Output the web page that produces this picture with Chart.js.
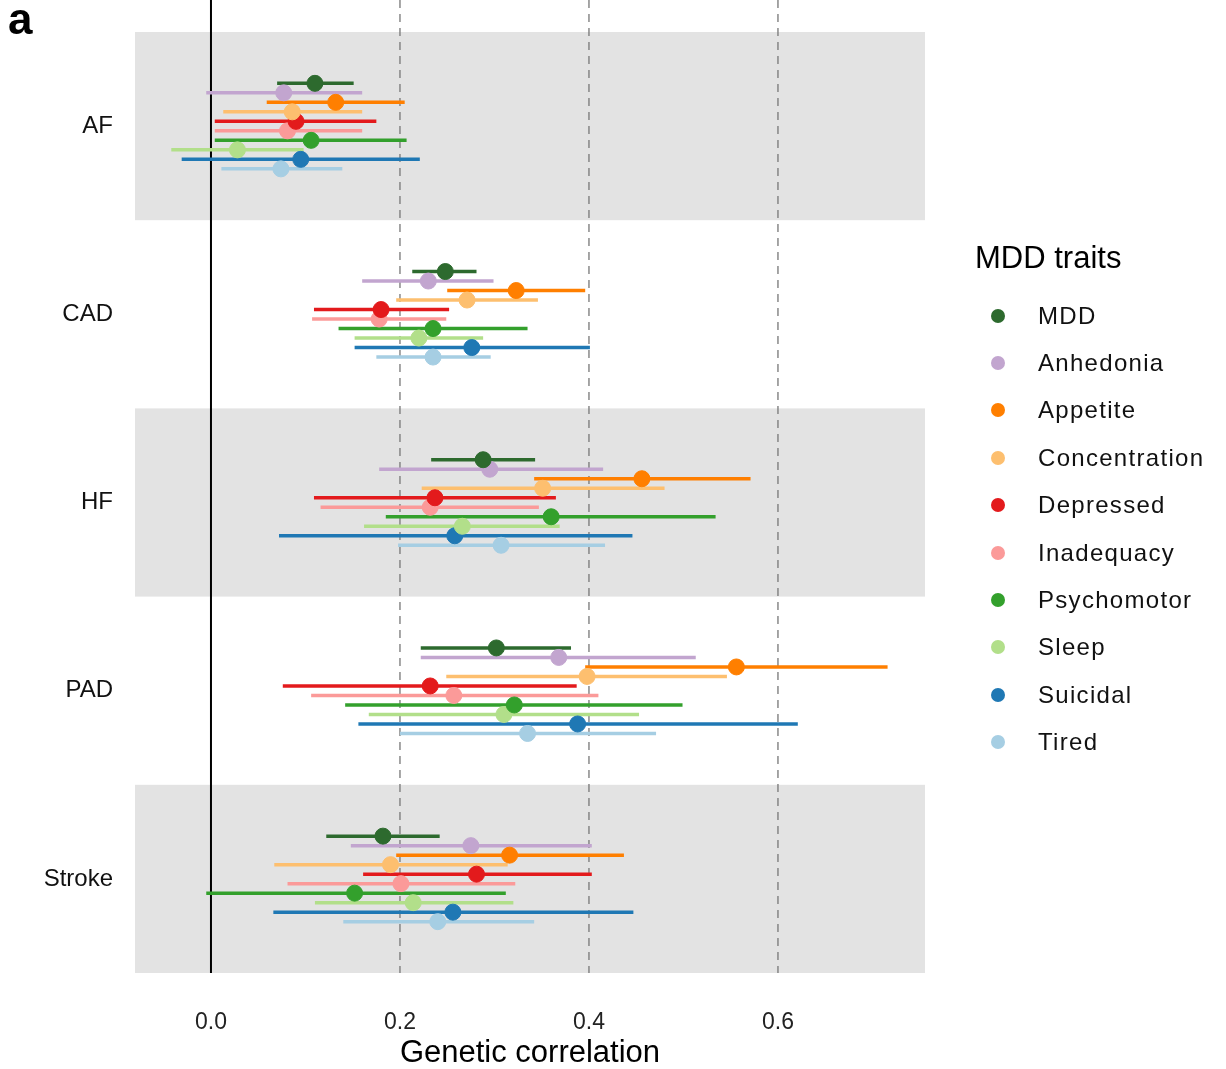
<!DOCTYPE html>
<html>
<head>
<meta charset="utf-8">
<script src="https://cdn.jsdelivr.net/npm/chart.js@4"></script>
<style>
  body { margin:0; background:#fff; font-family:"Liberation Sans", Arial, sans-serif; }
  #wrap { position:relative; width:1226px; height:1069px; }
  #tag { position:absolute; left:8px; top:-6px; font-size:44px; font-weight:bold; }
  #legend { position:absolute; left:975px; top:240px; color:#111; }
  #legend .title { font-size:31px; margin-bottom:16px; color:#000; }
  #legend .item { height:47.4px; display:flex; align-items:center; font-size:24px; letter-spacing:1.3px; }
  #legend .dot { width:14px; height:14px; border-radius:50%; margin-left:16px; margin-right:33px; }
</style>
</head>
<body>
<div id="wrap">
  <canvas id="myChart" width="1226" height="1069"></canvas>
  <div id="tag">a</div>
  <div id="legend"><div class="title">MDD traits</div></div>
</div>
<script>
/* data */
const groups = ['AF', 'CAD', 'HF', 'PAD', 'Stroke'];
const traits = ['MDD', 'Anhedonia', 'Appetite', 'Concentration', 'Depressed', 'Inadequacy', 'Psychomotor', 'Sleep', 'Suicidal', 'Tired'];
const colors = ['#2d6a2e', '#c2a5cf', '#ff7f00', '#fdbf6f', '#e31a1c', '#fb9a99', '#33a02c', '#b2df8a', '#1f78b4', '#a6cee3'];
const xTicks = [0, 0.2, 0.4, 0.6];
const xTitle = 'Genetic correlation';

// estimates per trait, one value per group (AF, CAD, HF, PAD, Stroke)
const est = [
  [0.110, 0.248, 0.288, 0.302, 0.182],
  [0.077, 0.230, 0.295, 0.368, 0.275],
  [0.132, 0.323, 0.456, 0.556, 0.316],
  [0.086, 0.271, 0.351, 0.398, 0.190],
  [0.090, 0.180, 0.237, 0.232, 0.281],
  [0.081, 0.178, 0.232, 0.257, 0.201],
  [0.106, 0.235, 0.360, 0.321, 0.152],
  [0.028, 0.220, 0.266, 0.310, 0.214],
  [0.095, 0.276, 0.258, 0.388, 0.256],
  [0.074, 0.235, 0.307, 0.335, 0.240]
];
const lower = [
  [0.070, 0.213, 0.233, 0.222, 0.122],
  [-0.005, 0.160, 0.178, 0.222, 0.148],
  [0.059, 0.250, 0.342, 0.396, 0.196],
  [0.013, 0.196, 0.223, 0.249, 0.067],
  [0.004, 0.109, 0.109, 0.076, 0.161],
  [0.004, 0.107, 0.116, 0.106, 0.081],
  [0.004, 0.135, 0.185, 0.142, -0.005],
  [-0.042, 0.152, 0.162, 0.167, 0.110],
  [-0.031, 0.152, 0.072, 0.156, 0.066],
  [0.011, 0.175, 0.198, 0.200, 0.140]
];
const upper = [
  [0.151, 0.281, 0.343, 0.381, 0.242],
  [0.160, 0.299, 0.415, 0.513, 0.403],
  [0.205, 0.396, 0.571, 0.716, 0.437],
  [0.160, 0.346, 0.480, 0.546, 0.314],
  [0.175, 0.252, 0.365, 0.387, 0.403],
  [0.160, 0.249, 0.347, 0.410, 0.322],
  [0.207, 0.335, 0.534, 0.499, 0.312],
  [0.098, 0.288, 0.369, 0.453, 0.320],
  [0.221, 0.401, 0.446, 0.621, 0.447],
  [0.139, 0.296, 0.417, 0.471, 0.342]
];

const rowStep = 0.0505;
function rowY(g, t) { return g + 0.5 + (t - 4.5) * rowStep; }

const datasets = traits.map((name, t) => ({
  label: name,
  data: groups.map((g, i) => ({ x: est[t][i], y: rowY(i, t), lo: lower[t][i], hi: upper[t][i] })),
  backgroundColor: colors[t],
  borderColor: colors[t],
  pointRadius: 8,
  pointHoverRadius: 8,
  pointStyle: 'circle'
}));

// legend
const legendBox = document.getElementById('legend');
traits.forEach((name, t) => {
  const row = document.createElement('div');
  row.className = 'item';
  row.innerHTML = '<span class="dot" style="background:' + colors[t] + '"></span>' + name;
  legendBox.appendChild(row);
});

/* 배경 밴드, 기준선, 오차 막대 */
const backdrop = {
  id: 'backdrop',
  beforeDatasetsDraw(chart) {
    const { ctx, chartArea: a, scales: { x, y } } = chart;
    ctx.save();
    ctx.fillStyle = '#e3e3e3';
    groups.forEach((g, i) => {
      if (i % 2 === 0) {
        const top = y.getPixelForValue(i), bot = y.getPixelForValue(i + 1);
        ctx.fillRect(a.left, top, a.right - a.left, bot - top);
      }
    });
    xTicks.forEach(v => {
      const px = x.getPixelForValue(v);
      ctx.beginPath();
      ctx.lineWidth = v === 0 ? 2 : 1.3;
      ctx.strokeStyle = v === 0 ? '#000' : '#777';
      ctx.setLineDash(v === 0 ? [] : [8, 6]);
      ctx.moveTo(px, 0);
      ctx.lineTo(px, a.bottom);
      ctx.stroke();
    });
    ctx.setLineDash([]);
    ctx.lineWidth = 3.5;
    chart.data.datasets.forEach(ds => {
      ctx.strokeStyle = ds.borderColor;
      ds.data.forEach(p => {
        const py = y.getPixelForValue(p.y);
        ctx.beginPath();
        ctx.moveTo(x.getPixelForValue(p.lo), py);
        ctx.lineTo(x.getPixelForValue(p.hi), py);
        ctx.stroke();
      });
    });
    ctx.restore();
  },
  afterDraw(chart) {
    const { ctx, chartArea: a } = chart;
    ctx.save();
    ctx.fillStyle = '#000';
    ctx.font = '31px "Liberation Sans"';
    ctx.textAlign = 'center';
    ctx.textBaseline = 'middle';
    ctx.fillText(xTitle, (a.left + a.right) / 2, 1053);
    ctx.restore();
  }
};

const config = {
  type: 'scatter',
  data: { datasets },
  options: {
    responsive: false,
    animation: false,
    layout: { padding: { top: 32, left: 0, right: 301, bottom: 2 } },
    scales: {
      x: {
        min: -0.0804, max: 0.7556,
        afterBuildTicks: s => { s.ticks = xTicks.map(v => ({ value: v })); },
        afterFit: s => { s.height = 94; },
        ticks: { color: '#222', font: { size: 23, family: 'Liberation Sans' }, callback: v => v.toFixed(1), padding: 28 },
        grid: { display: false },
        border: { display: false }
      },
      y: {
        min: 0, max: 5, reverse: true,
        afterBuildTicks: s => { s.ticks = groups.map((g, i) => ({ value: i + 0.5 })); },
        afterFit: s => { s.width = 135; },
        ticks: { color: '#111', font: { size: 24, family: 'Liberation Sans' }, callback: v => groups[Math.floor(v)], padding: 14 },
        grid: { display: false },
        border: { display: false }
      }
    },
    plugins: {
      tooltip: { enabled: false },
      legend: { display: false }
    }
  },
  plugins: [backdrop]
};

var myChart = new Chart(document.getElementById('myChart'), config);
</script>
</body>
</html>
